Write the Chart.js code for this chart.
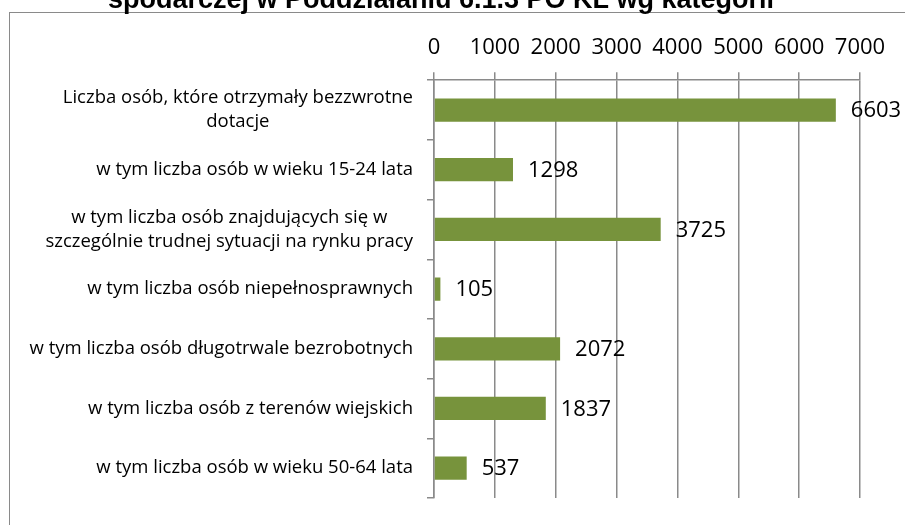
<!DOCTYPE html>
<html><head><meta charset="utf-8">
<script src="https://cdn.jsdelivr.net/npm/chart.js@4/dist/chart.umd.min.js"></script>
<style>
html,body{margin:0;padding:0;background:#fff;overflow:hidden;width:905px;height:525px;}
#frame{position:absolute;left:9px;top:12px;width:1200px;height:1200px;border:1.5px solid #8a8a8a;box-sizing:border-box;}
#wrap{position:absolute;left:0;top:-16px;width:905px;height:541px;}
</style></head><body>
<div id="frame"></div>
<div id="wrap"><canvas id="c" width="905" height="541" style="width:905px;height:541px"></canvas></div>
<script>
const titleText = 'spodarczej w Poddziałaniu 6.1.3 PO KL wg kategorii';
const categories = [
  ['Liczba osób, które otrzymały bezzwrotne', 'dotacje'],
  'w tym liczba osób w wieku 15-24 lata',
  ['w tym liczba osób znajdujących się w', 'szczególnie trudnej sytuacji na rynku pracy'],
  'w tym liczba osób niepełnosprawnych',
  'w tym liczba osób długotrwale bezrobotnych',
  'w tym liczba osób z terenów wiejskich',
  'w tym liczba osób w wieku 50-64 lata'
];
const values = [6603, 1298, 3725, 105, 2072, 1837, 537];
const tickLabels = ['0', '1000', '2000', '3000', '4000', '5000', '6000', '7000'];
const axisMin = 0, axisMax = 7000, axisStep = 1000;

const GRAY = '#8a8a8a';
const BAR = '#77933C';
const NUM_FONT = {family: '"Open Sans", sans-serif', size: 22};

const centerLabels = {
  id: 'centerLabels',
  beforeDraw(chart) {
    const sc = chart.scales.y;
    const items = sc.getLabelItems();
    const ctx = chart.ctx;
    items.forEach(it => {
      if (it._centered) return;
      ctx.save();
      ctx.font = it.font.string;
      const lines = Array.isArray(it.label) ? it.label : [it.label];
      const w = Math.max(...lines.map(l => ctx.measureText(l).width));
      ctx.restore();
      if (it.options.textAlign === 'right') {
        it.options.translation[0] -= w / 2;
        it.options.textAlign = 'center';
        it._centered = true;
      }
    });
  }
};

const valueLabels = {
  id: 'valueLabels',
  afterDatasetsDraw(chart) {
    const ctx = chart.ctx;
    const meta = chart.getDatasetMeta(0);
    ctx.save();
    ctx.font = NUM_FONT.size + 'px ' + NUM_FONT.family;
    ctx.fillStyle = '#000';
    ctx.textAlign = 'left';
    ctx.textBaseline = 'middle';
    meta.data.forEach((bar, i) => {
      ctx.fillText(String(values[i]), bar.x + 15, bar.y + 1);
    });
    ctx.restore();
  }
};

new Chart(document.getElementById('c'), {
  type: 'bar',
  data: {
    labels: categories,
    datasets: [{
      data: values,
      backgroundColor: BAR,
      borderWidth: 0,
      categoryPercentage: 1,
      barPercentage: 0.39
    }]
  },
  options: {
    indexAxis: 'y',
    responsive: false,
    maintainAspectRatio: false,
    animation: false,
    devicePixelRatio: 1,
    layout: {padding: {left: 22, right: 45, top: 0, bottom: 27}},
    plugins: {
      legend: {display: false},
      tooltip: {enabled: false},
      title: {
        display: true,
        text: titleText,
        color: '#000',
        font: {family: '"Liberation Sans", Arial, sans-serif', size: 27, weight: 'bold', lineHeight: 1.2},
        padding: {top: 0, bottom: 0}
      }
    },
    scales: {
      x: {
        position: 'top',
        min: axisMin,
        max: axisMax,
        ticks: {
          stepSize: axisStep, color: '#000', font: NUM_FONT, padding: 11, maxRotation: 0,
          callback: (v, i) => tickLabels[i]
        },
        grid: {color: GRAY, lineWidth: 1.5, tickLength: 8, drawTicks: true},
        border: {display: true, color: GRAY, width: 1.5},
        afterFit(s) { s.height = 63.8; s.paddingLeft = 0; s.paddingRight = 0; }
      },
      y: {
        ticks: {color: '#000', font: {family: '"Open Sans", sans-serif', size: 18.5, lineHeight: 1.3}, padding: 14},
        grid: {drawOnChartArea: false, drawTicks: true, tickLength: 7, color: GRAY, lineWidth: 1.5, offset: true},
        border: {display: true, color: GRAY, width: 1.5},
        afterFit(s) { s.width = 412; s.paddingTop = 0; s.paddingBottom = 0; }
      }
    }
  },
  plugins: [centerLabels, valueLabels]
});
</script>
</body></html>
